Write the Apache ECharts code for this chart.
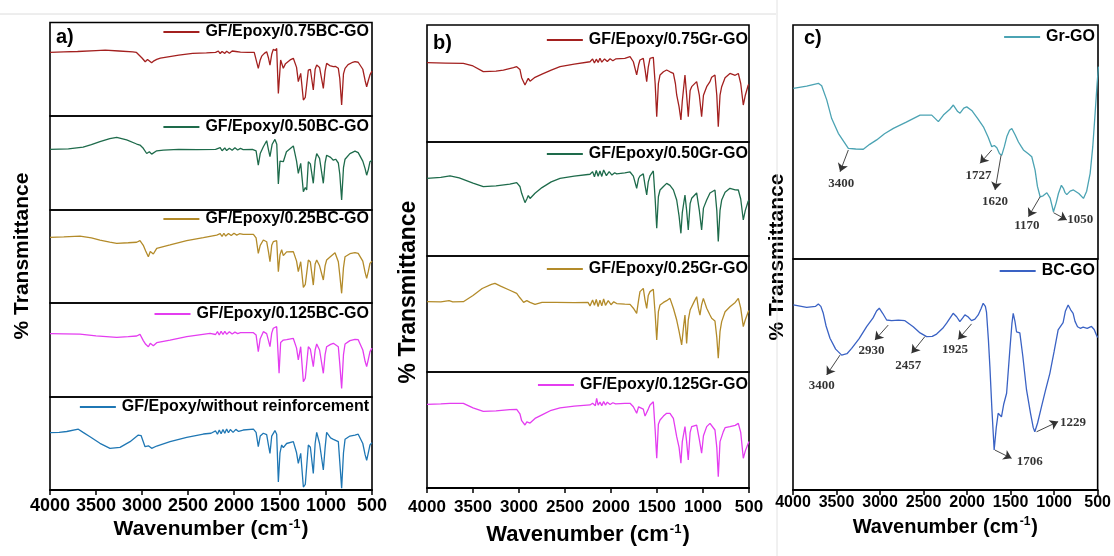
<!DOCTYPE html>
<html><head><meta charset="utf-8">
<script src="https://cdn.jsdelivr.net/npm/echarts@6/dist/echarts.min.js"></script>
<style>html,body{margin:0;padding:0;background:#fff}#c{width:1114px;height:556px}</style>
</head><body><div id="c"></div>
<script>
// ---------- DATA (wavenumber cm-1, relative transmittance within each sub-panel, 0-100) ----------
const xTicks = [4000, 3500, 3000, 2500, 2000, 1500, 1000, 500];

const namesA = ['GF/Epoxy/0.75BC-GO', 'GF/Epoxy/0.50BC-GO', 'GF/Epoxy/0.25BC-GO', 'GF/Epoxy/0.125BC-GO', 'GF/Epoxy/without reinforcement'];
const namesB = ['GF/Epoxy/0.75Gr-GO', 'GF/Epoxy/0.50Gr-GO', 'GF/Epoxy/0.25Gr-GO', 'GF/Epoxy/0.125Gr-GO'];
const namesC = ['Gr-GO', 'BC-GO'];

const a075 = [[4000,68],[3850,68.5],[3700,69],[3500,70],[3400,70.5],[3250,69.5],[3100,68.5],[3060,68],[3030,65],[3000,62],[2965,58],[2940,60.5],[2920,59.5],[2895,57],[2870,59],[2840,60.5],[2800,62],[2700,63.5],[2600,65],[2450,67],[2300,67.5],[2200,68],[2170,69.5],[2150,66.8],[2130,69],[2100,67],[2080,69.3],[2050,67.2],[2020,69.5],[2000,67.5],[1980,69],[1960,67.5],[1930,68.3],[1850,68],[1780,68],[1760,66],[1736,51],[1715,60],[1699,64],[1670,67],[1645,68.8],[1625,62],[1609,54.5],[1590,66],[1573,71.3],[1550,70],[1536,72.3],[1518,24.2],[1493,59.9],[1464,51],[1440,56],[1428,58.1],[1390,60],[1355,61.7],[1320,52],[1301,36.7],[1275,45.6],[1246,17.1],[1225,20],[1210,18.9],[1192,49.2],[1170,50],[1156,49.2],[1138,27.8],[1118,50],[1101,54.5],[1070,52],[1029,29.6],[1010,48],[993,56.3],[960,54],[920,52.7],[895,53],[866,51],[850,40],[830,11.8],[810,45],[793,51],[760,55],[720,57],[685,58.1],[650,57.5],[630,56.3],[600,50],[575,38],[558,31.3],[540,38],[522,44],[500,48]];

const a050 = [[4000,64.5],[3800,65],[3640,66.8],[3550,69.5],[3457,72.7],[3350,76],[3275,77.3],[3167,74.5],[3058,70.2],[3022,69.1],[2986,65.6],[2949,60.1],[2920,62],[2895,59.4],[2840,63],[2768,63.7],[2600,64.5],[2400,64.3],[2200,64.5],[2150,66.4],[2130,63],[2100,66],[2080,63.2],[2050,65.8],[2020,63.5],[1990,66.2],[1960,63.8],[1930,65.5],[1900,64.3],[1800,64.5],[1760,63],[1736,47.8],[1715,60],[1681,67.3],[1645,73.7],[1625,64],[1609,56.7],[1585,70],[1555,75.1],[1535,70],[1518,27.7],[1500,52],[1464,51.4],[1430,62],[1355,68.1],[1320,52],[1301,39],[1275,49.6],[1246,19.5],[1225,24],[1210,21.3],[1192,51.4],[1170,49],[1156,50],[1138,28.4],[1118,52],[1101,60.1],[1070,55],[1029,28.4],[1010,50],[993,58.3],[950,56],[920,53],[895,54],[866,50],[850,38],[830,10.6],[810,45],[793,54],[740,60],[685,62.6],[650,61],[630,60.1],[600,52],[575,44],[558,37],[540,43],[522,51.4],[500,53]];

const a025 = [[4000,70.6],[3850,71.2],[3674,72],[3550,70],[3457,67.7],[3350,65.5],[3275,64.2],[3150,64.8],[3058,65.3],[3022,67],[2986,62],[2960,56],[2931,49.8],[2910,55.3],[2877,52.7],[2840,58.8],[2695,62.4],[2514,67],[2333,70.2],[2188,73.1],[2170,71],[2150,74.5],[2130,71.5],[2110,75],[2090,72],[2060,74.8],[2030,72.5],[2000,75],[1970,73],[1940,74.5],[1900,73.8],[1789,73.8],[1760,70],[1736,53.4],[1715,62],[1681,67.7],[1645,65.9],[1625,55],[1609,44.4],[1590,62],[1573,65.9],[1536,67],[1518,33.7],[1500,52],[1482,57.3],[1464,51],[1428,55],[1355,55.2],[1320,45],[1301,33.7],[1275,44.4],[1246,16.8],[1225,20],[1210,18.2],[1192,46.2],[1170,44],[1156,44.4],[1138,19.3],[1118,42],[1101,46.2],[1070,40],[1029,24.7],[1010,40],[993,46.2],[950,50],[902,54.1],[866,44.4],[850,30],[830,10.4],[810,38],[793,49.8],[740,53],[685,54.1],[650,53.4],[630,53.4],[600,45],[575,33],[558,26.5],[540,34],[522,42.6],[500,45]];

const a0125 = [[4000,67.4],[3850,67.2],[3674,66.8],[3500,65],[3275,63.5],[3150,64.2],[3058,64.9],[3022,66.7],[2986,60],[2960,56],[2931,53.5],[2910,57.1],[2877,54.6],[2840,57.8],[2695,60.6],[2514,64.2],[2260,67.7],[2200,66.5],[2180,69.5],[2160,66],[2140,70],[2120,66.5],[2100,69.8],[2080,66.8],[2050,69.5],[2020,67],[1990,69],[1960,67.5],[1930,68.5],[1789,68.4],[1760,66],[1736,48.2],[1715,62],[1681,69.5],[1645,67.4],[1625,60],[1609,53.5],[1590,68],[1573,73.1],[1536,74.8],[1510,25.2],[1493,58],[1464,60.6],[1428,61],[1355,62.3],[1320,52],[1301,39.5],[1275,53.5],[1246,16.3],[1225,20],[1210,18.1],[1192,53.5],[1170,51],[1156,51.8],[1138,32.3],[1118,50],[1101,56.4],[1070,50],[1029,25.2],[1010,45],[993,53.5],[950,56],[920,57.1],[866,53.5],[850,35],[830,9.2],[810,45],[793,56.4],[740,60],[685,61.3],[650,61],[630,60.6],[600,50],[575,38],[558,32.3],[540,40],[522,48.2],[500,52]];

const a000 = [[4000,61.6],[3900,62],[3818,62.9],[3692,65.4],[3640,62],[3565,57.3],[3457,50.2],[3348,44.8],[3239,45.9],[3130,52],[3040,59.1],[3010,58.5],[2990,53],[2967,46.6],[2930,47.5],[2895,44.8],[2840,47.3],[2695,52],[2514,56.6],[2333,60.2],[2250,61],[2200,63.5],[2180,60],[2160,64.5],[2140,60.5],[2120,65],[2100,61],[2080,65.5],[2060,61.5],[2040,65],[2010,62],[1980,65.2],[1950,63],[1900,64.5],[1789,65.4],[1760,62],[1736,46.6],[1715,58],[1681,61],[1645,59.5],[1625,48],[1609,39.4],[1590,58],[1555,63.9],[1536,60],[1518,8.6],[1500,40],[1482,48.4],[1464,45.5],[1428,50],[1355,52],[1320,40],[1301,28.7],[1275,39.4],[1246,3.2],[1225,6],[1210,6.5],[1192,48.4],[1170,46],[1156,46.6],[1138,17.9],[1118,50],[1101,61.9],[1070,50],[1029,21.5],[1010,45],[993,61.9],[950,56],[920,54.5],[866,52],[850,30],[830,2],[810,40],[793,54.5],[740,58],[685,59.1],[650,60],[630,60.8],[600,50],[575,38],[558,32],[540,40],[522,48.4],[500,51]];

const b075 = [[4000,67.8],[3800,67.5],[3605,67.2],[3500,65],[3388,60.1],[3250,60.5],[3170,61.5],[3060,63.5],[3025,64.4],[2990,62],[2971,55],[2935,48.7],[2915,52],[2899,54.4],[2880,52],[2862,51.6],[2826,55.3],[2750,58],[2650,61.5],[2554,64.4],[2400,66.5],[2228,68.6],[2200,71],[2180,67.5],[2160,70.8],[2140,68],[2120,71.5],[2100,68.2],[2070,71],[2040,68.8],[2010,71.2],[1980,69.5],[1950,71],[1938,70],[1850,71.5],[1793,72.9],[1757,68.6],[1721,57.3],[1700,66],[1685,70.1],[1649,71.5],[1630,62],[1612,51.6],[1595,64],[1576,71.5],[1540,72.3],[1520,50],[1503,21.6],[1485,50],[1467,57.3],[1430,60],[1395,61.5],[1359,60],[1322,58.6],[1300,50],[1286,40.2],[1260,30],[1240,18.8],[1225,35],[1196,57.3],[1178,40],[1160,21.6],[1140,44],[1123,47.3],[1069,51.6],[1040,40],[1015,21.6],[995,40],[960,47.3],[924,51.6],[906,55.3],[870,57.3],[850,40],[834,13.1],[815,40],[797,47.3],[760,55],[707,58.6],[650,57],[616,58.6],[590,50],[562,31.6],[540,40],[508,48.7],[500,49]];

const b050 = [[4000,68.1],[3850,69],[3750,70.2],[3650,68.5],[3500,64],[3388,60.8],[3250,61.5],[3100,63],[3025,64.3],[2990,61],[2971,55],[2935,46.8],[2915,50],[2899,53],[2880,50.5],[2862,52],[2826,55],[2750,60],[2650,65],[2554,68],[2400,70],[2228,71.7],[2200,74],[2180,69.5],[2160,75],[2140,70],[2120,74.5],[2100,69.8],[2080,75.5],[2050,70.5],[2020,74],[1990,71],[1960,73],[1938,72],[1850,73],[1793,73.7],[1757,70],[1721,59.4],[1700,68],[1685,70.2],[1649,72],[1630,62],[1612,53.5],[1595,65],[1576,70.2],[1540,74.6],[1520,50],[1503,24.3],[1485,52],[1467,57.9],[1430,61],[1395,63.7],[1359,62],[1322,58],[1286,49.1],[1260,35],[1240,19.9],[1225,38],[1196,53.5],[1178,40],[1160,22.8],[1140,46],[1123,50.6],[1069,55.3],[1040,40],[1015,22.8],[995,42],[960,49.1],[924,55.3],[906,57],[870,57.9],[850,40],[834,12.7],[815,40],[797,49.1],[760,56],[707,59.4],[650,58],[616,57.9],[590,50],[562,31.6],[540,40],[508,48.2],[500,49]];

const b025 = [[4000,60.6],[3850,60.5],[3760,61.5],[3720,60.5],[3605,60.6],[3500,66],[3400,72],[3300,75.5],[3261,76.4],[3200,74],[3100,70.5],[3025,67.8],[2990,64],[2971,62.1],[2950,60],[2935,59.2],[2915,61.5],[2899,61],[2880,60],[2862,61.5],[2826,58.3],[2808,58.5],[2750,60.1],[2600,60],[2400,59.8],[2250,60],[2228,57],[2200,62],[2180,57.5],[2160,62.5],[2140,56.5],[2120,62],[2100,57],[2080,63],[2060,57.5],[2030,61.5],[2000,58],[1970,60.5],[1938,59],[1850,58.5],[1793,58.3],[1757,55],[1721,50.6],[1700,62],[1685,69.3],[1649,72.1],[1630,62],[1612,54.9],[1595,66],[1576,69.3],[1540,71.3],[1520,50],[1503,27.6],[1485,52],[1467,57.8],[1430,60],[1395,61.5],[1359,63.5],[1322,55],[1286,44.8],[1260,35],[1232,23.3],[1210,40],[1196,49.1],[1178,24.7],[1160,45],[1140,53.4],[1100,60],[1069,64.9],[1050,55],[1033,49.1],[1015,58],[996,63.5],[960,55],[924,49.1],[906,46.3],[870,44],[850,30],[834,11.8],[815,35],[797,43.4],[760,52],[707,56.3],[650,60],[616,63.5],[590,55],[562,39.1],[540,45],[508,52],[500,53]];

const b0125 = [[4000,72.1],[3850,72.5],[3750,73],[3605,73],[3500,69],[3388,66],[3250,66.5],[3100,67.5],[3025,67.8],[2990,64],[2971,58],[2935,54.3],[2915,57],[2899,58],[2880,56],[2862,57.2],[2826,60],[2750,63],[2650,67],[2554,69],[2400,70.5],[2228,71.6],[2200,73],[2170,71],[2156,77.3],[2140,71.5],[2120,74],[2100,71],[2080,74.5],[2060,71.5],[2040,74],[2010,72],[1980,73.5],[1950,72.5],[1850,73],[1793,73],[1757,70],[1721,64.4],[1700,70],[1685,70.1],[1649,68],[1630,62],[1612,61.5],[1595,68],[1576,71.6],[1540,74.4],[1520,50],[1503,25.6],[1485,55],[1467,58.6],[1430,62],[1395,64.4],[1359,64.4],[1322,60],[1286,44.2],[1260,35],[1240,21.3],[1225,40],[1196,52.9],[1178,40],[1160,24.1],[1140,48],[1123,52.9],[1069,54.3],[1040,42],[1015,30],[995,45],[960,52.9],[924,55.7],[906,55],[870,50],[850,35],[834,9.8],[815,40],[779,48.6],[760,52],[707,52.9],[650,54],[616,55.7],[590,48],[562,25.6],[540,32],[508,38.5],[500,40]];

const grGO = [[3996,72.9],[3843,73.9],[3709,75.1],[3671,74],[3613,68],[3556,60],[3480,53.7],[3365,47.3],[3280,47],[3193,46.9],[3120,49],[3040,50.9],[2950,53.5],[2848,55.8],[2700,58.5],[2542,61.5],[2408,61.5],[2332,58.7],[2274,61.5],[2200,64],[2160,65.8],[2110,63],[2083,62.3],[2040,64.5],[2006,65],[1949,63.5],[1880,60],[1815,56.5],[1760,52],[1719,48],[1690,48.5],[1661,47.5],[1630,45],[1604,44.4],[1575,48],[1546,52.3],[1515,55],[1489,55.8],[1450,53],[1413,50],[1380,48],[1356,46.6],[1300,45],[1260,43.7],[1222,38],[1195,31],[1164,26.6],[1130,27],[1087,28.3],[1049,26],[1011,20.2],[980,24],[954,28],[920,31.5],[897,30.2],[880,28.5],[858,27.5],[820,29],[782,29.5],[720,28],[667,25.9],[630,29],[590,36.6],[560,48],[533,62.3],[510,75],[495,82.2]];

const bcGO = [[3996,80.1],[3843,79.1],[3740,79.5],[3709,80.5],[3680,79.5],[3652,76.5],[3620,71],[3575,65.7],[3510,61],[3441,58.4],[3380,59],[3326,61.3],[3240,65.5],[3154,70.7],[3080,74.5],[3040,77.5],[3009,78.7],[2970,76.5],[2924,73.6],[2867,73.3],[2790,73.5],[2714,73.3],[2619,70.7],[2540,68],[2465,66.4],[2400,66.5],[2350,67.5],[2280,70],[2235,72.2],[2160,76.5],[2120,75],[2083,72.9],[2050,74.5],[2025,75.8],[1990,75],[1949,73.3],[1910,74],[1872,75.8],[1840,78.5],[1815,80.8],[1790,79.5],[1777,77],[1755,65],[1738,53.4],[1715,35],[1689,17.3],[1665,27],[1643,33.2],[1625,32.5],[1605,31.7],[1580,37],[1546,41.9],[1510,60],[1485,72],[1470,76.5],[1450,73],[1432,68.5],[1394,68],[1360,58],[1317,43.3],[1270,33],[1240,27],[1222,25.2],[1190,29],[1145,36.1],[1100,43],[1049,50.5],[1000,60],[954,69.3],[897,72.5],[870,77.5],[839,80.1],[810,78],[782,76.5],[760,73],[731,70.7],[700,70],[667,70.5],[620,70],[571,70.8],[540,69.5],[514,67.1],[500,66]];

// peak annotations: label, curve point, arrow tip, text anchor (wavenumber, relative value)
const grAnnot = [
  ['3400', [3365,46.6], [3460,37.3], [3445,32.3]],
  ['1727', [1719,46.6], [1853,40.9], [1872,35.8]],
  ['1620', [1612,44.4], [1681,29.5], [1681,24.3]],
  ['1170', [1164,26.6], [1298,18.1], [1317,14.3]],
  ['1050', [1011,19.8], [858,16.7], [705,16.7]]
];
const bcAnnot = [
  ['3400', [3460,58.4], [3613,49.8], [3671,45.3]],
  ['2930', [2906,71.4], [3059,64.9], [3097,60.4]],
  ['2457', [2485,66.4], [2638,59.2], [2676,53.9]],
  ['1925', [1949,71.9], [2102,65.2], [2140,60.7]],
  ['1706', [1681,17.3], [1489,13.7], [1279,12.3]],
  ['1229', [1202,25.2], [954,29.6], [782,29.1]]
];

// ---------- LAYOUT ----------
const SANS = "'Liberation Sans', Arial, Helvetica, sans-serif";
const SERIF = "'Liberation Serif', 'Times New Roman', serif";
const panels = [
  {left:50, width:322, bounds:[22.5,116,210,303,397,490], names:namesA, data:[a075,a050,a025,a0125,a000],
   colors:['#A3201F','#1E6B4B','#B38B2A','#E43DF0','#1F77B4'], legendRight:745, legendCenters:[33,128,220,315,408],
   tickSize:18, labelMargin:7, nameGap:28, nameSize:21, title:{x:22,y:256,size:21}, tag:{t:'a)',x:56,y:37}},
  {left:427, width:322, bounds:[25,142,256,372,488], names:namesB, data:[b075,b050,b025,b0125],
   colors:['#A3201F','#1E6B4B','#B38B2A','#E43DF0'], legendRight:366, legendCenters:[41,155,270,386],
   tickSize:17, labelMargin:11, nameGap:35, nameSize:22, title:{x:409,y:292,size:23}, tag:{t:'b)',x:433,y:43}},
  {left:793, width:305, bounds:[25,259,490], names:namesC, data:[grGO,bcGO],
   colors:['#4BA3B3','#3A62C4'], legendRight:19, legendCenters:[38,272],
   tickSize:16, labelMargin:5, nameGap:26, nameSize:20, title:{x:777,y:257,size:21}, tag:{t:'c)',x:804,y:38}}
];

const grid=[], xAxis=[], yAxis=[], series=[], legend=[], graphic=[];
let gi = 0;
panels.forEach(p => {
  const n = p.bounds.length - 1;
  for (let k = 0; k < n; k++) {
    const top = p.bounds[k], h = p.bounds[k+1] - p.bounds[k];
    const isBottom = k === n - 1;
    grid.push({left:p.left, top:top, width:p.width, height:h, show:true, borderColor:'#000', borderWidth:1.6, backgroundColor:'transparent'});
    xAxis.push({
      gridIndex:gi, type:'value', min:500, max:4000, interval:500, inverse:true,
      splitLine:{show:false},
      axisLine:{show:isBottom, onZero:false, lineStyle:{color:'#000', width:2}},
      axisTick:{show:isBottom, inside:false, length:5, lineStyle:{color:'#000', width:1.5}},
      axisLabel:{show:isBottom, margin:p.labelMargin, color:'#000', fontWeight:'bold', fontSize:p.tickSize, fontFamily:SANS,
        formatter: v => xTicks.includes(v) ? String(v) : ''},
      name: isBottom ? '{t|Wavenumber (cm}{s|-1}{t|)}' : '',
      nameLocation:'middle', nameGap:p.nameGap,
      nameTextStyle:{rich:{
        t:{fontSize:p.nameSize, fontWeight:'bold', color:'#000', fontFamily:SANS},
        s:{fontSize:Math.round(p.nameSize*0.6), fontWeight:'bold', color:'#000', fontFamily:SANS, verticalAlign:'top', padding:[0,1,10,1]}
      }}
    });
    yAxis.push({gridIndex:gi, type:'value', min:0, max:100, show:false, splitLine:{show:false}});
    series.push({
      type:'line', name:p.names[k], xAxisIndex:gi, yAxisIndex:gi, data:p.data[k],
      showSymbol:false, symbol:'none', smooth:false,
      lineStyle:{color:p.colors[k], width:1.3}, itemStyle:{color:p.colors[k]}, z:3
    });
    legend.push({
      data:[p.names[k]], right:p.legendRight, top:p.legendCenters[k]-9, padding:0,
      icon:'rect', itemWidth:36, itemHeight:2, selectedMode:false,
      textStyle:{fontSize:16, fontWeight:'bold', color:'#000', fontFamily:SANS, padding:[0,0,0,1]}
    });
    gi++;
  }
  graphic.push({type:'text', x:p.title.x, y:p.title.y, rotation:Math.PI/2,
    style:{text:'% Transmittance', fill:'#000', font:'bold '+p.title.size+'px '+SANS, textAlign:'center', textVerticalAlign:'middle'}});
  graphic.push({type:'text', x:p.tag.x, y:p.tag.y,
    style:{text:p.tag.t, fill:'#000', font:'bold 20px '+SANS, textAlign:'left', textVerticalAlign:'middle'}});
});

// annotations on panel c (grid indexes 9 and 10)
function addAnnot(list, idx) {
  series.push({
    type:'line', xAxisIndex:idx, yAxisIndex:idx, data:[], silent:true,
    markLine:{silent:true, symbol:['none','arrow'], symbolSize:8, animation:false,
      lineStyle:{color:'#333', width:0.9, type:'solid'}, itemStyle:{color:'#222'}, label:{show:false},
      data:list.map(a => [{coord:a[1]}, {coord:a[2]}])}
  });
  series.push({
    type:'scatter', xAxisIndex:idx, yAxisIndex:idx, symbolSize:1, silent:true,
    itemStyle:{color:'rgba(0,0,0,0)'},
    data:list.map(a => [a[3][0], a[3][1], a[0]]),
    label:{show:true, position:'inside', formatter:q => q.data[2], color:'#000',
      fontFamily:SERIF, fontWeight:'bold', fontSize:13}
  });
}
addAnnot(grAnnot, 9);
addAnnot(bcAnnot, 10);

// faint frame lines of the composite figure
graphic.push({type:'line', shape:{x1:0, y1:14, x2:776, y2:14}, style:{stroke:'#dcdcdc', lineWidth:1}});
graphic.push({type:'line', shape:{x1:777, y1:0, x2:777, y2:556}, style:{stroke:'#e2e2e2', lineWidth:1}});

const chart = echarts.init(document.getElementById('c'), null, {renderer:'canvas'});
chart.setOption({animation:false, backgroundColor:'#fff', grid, xAxis, yAxis, series, legend, graphic});
</script>
</body></html>
